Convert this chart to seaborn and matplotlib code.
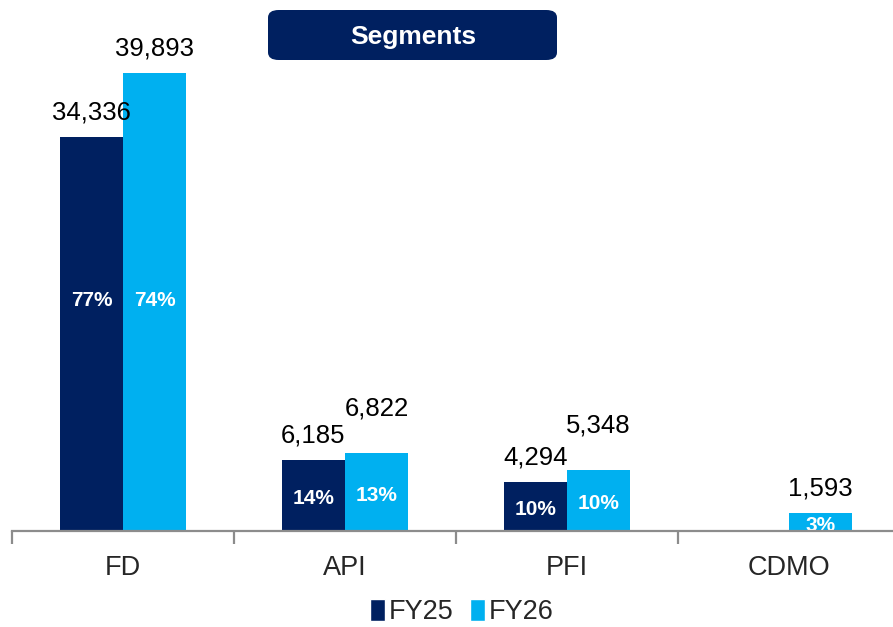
import numpy as np
import pandas as pd
import seaborn as sns
import matplotlib.pyplot as plt
from matplotlib.patches import FancyBboxPatch, Patch

categories = ['FD', 'API', 'PFI', 'CDMO']
fy25 = [34336, 6185, 4294, np.nan]
fy26 = [39893, 6822, 5348, 1593]
fy25_pct = ['77%', '14%', '10%', None]
fy26_pct = ['74%', '13%', '10%', '3%']
years = ['FY25', 'FY26']
title = 'Segments'

navy = '#002060'
light = '#00B0F0'

sns.set_style('white')
plt.rcParams['font.family'] = ['Liberation Sans', 'DejaVu Sans']

df = pd.DataFrame({
    'segment': categories * 2,
    'year': [years[0]] * 4 + [years[1]] * 4,
    'value': fy25 + fy26,
})

fig = plt.figure(figsize=(8.93, 6.27), dpi=100)
ax = fig.add_axes([12 / 893, 96 / 627, 888 / 893, 517 / 627])

sns.barplot(data=df, x='segment', y='value', hue='year', order=categories,
            hue_order=years, palette=[navy, light], width=0.568, gap=0,
            saturation=1, linewidth=0, legend=False, ax=ax)

ax.set_xlim(-0.5, 3.5)
ax.set_ylim(0, 45000)
ax.set_xlabel('')
ax.set_ylabel('')
ax.set_yticks([])
for s in ['top', 'right', 'left']:
    ax.spines[s].set_visible(False)
ax.spines['bottom'].set_color('#8c8c8c')
ax.spines['bottom'].set_linewidth(1.6)
ax.spines['bottom'].set_zorder(5)

# tick marks between categories, labels centred under each group
ax.set_xticks(np.arange(-0.5, 3.6, 1))
ax.set_xticklabels([])
ax.tick_params(axis='x', which='major', bottom=True, length=9, width=1.6,
               color='#8c8c8c', direction='out')
ax.set_xticks(range(len(categories)), minor=True)
ax.set_xticklabels(categories, minor=True, fontsize=19.5)
ax.tick_params(axis='x', which='minor', bottom=True, length=0, pad=17)

off = 0.142
for i in range(len(categories)):
    for vals, pcts, dx in [(fy25, fy25_pct, -off), (fy26, fy26_pct, off)]:
        v = vals[i]
        if np.isnan(v):
            continue
        # lift the FY26 label when it would run into the FY25 one
        lift = 0
        if dx > 0 and not np.isnan(fy25[i]) and v - fy25[i] < 3000:
            lift = 14
        ax.annotate(f'{int(v):,}', (i + dx, v), xytext=(0, 9 + lift),
                    textcoords='offset points', ha='center', va='bottom',
                    fontsize=18.5, color='black')
        if pcts[i]:
            y = 20400 if v > 20000 else v / 2
            ax.annotate(pcts[i], (i + dx, y), xytext=(0, -2.5),
                        textcoords='offset points', ha='center', va='center',
                        fontsize=15, fontweight='bold', color='white',
                        annotation_clip=False, zorder=4)

# title box
box = FancyBboxPatch((268 / 893, 1 - 60 / 627), 289 / 893, 50 / 627,
                     boxstyle='round,pad=0,rounding_size=0.012',
                     transform=fig.transFigure, facecolor=navy,
                     edgecolor='none')
fig.patches.append(box)
fig.text(413 / 893, 1 - 37 / 627, title, ha='center', va='center',
         fontsize=19, fontweight='bold', color='white')

handles = [Patch(facecolor=navy, label=years[0]),
           Patch(facecolor=light, label=years[1])]
fig.legend(handles=handles, loc='center', bbox_to_anchor=(462 / 893, 1 - 612 / 627),
           ncol=2, frameon=False, fontsize=19.5, handlelength=0.55,
           handleheight=0.85, handletextpad=0.15, columnspacing=0.6)

fig.savefig('out.png', dpi=100)
